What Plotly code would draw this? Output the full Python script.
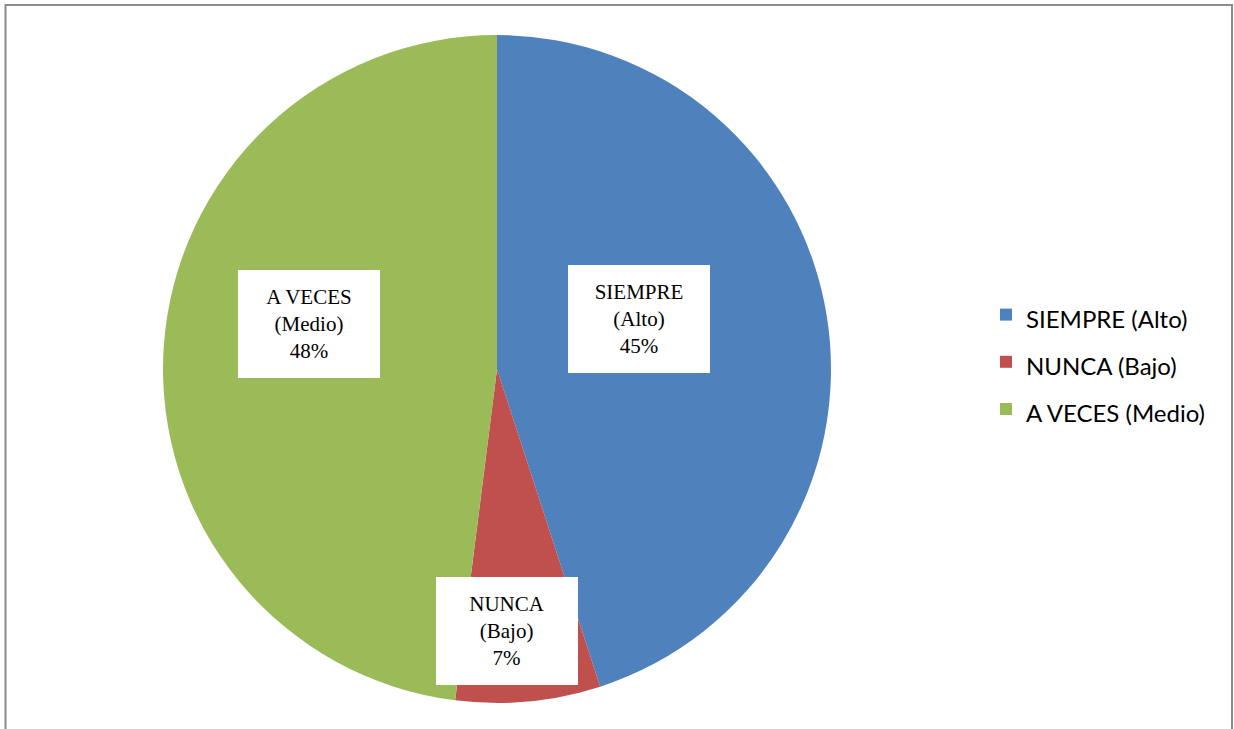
import plotly.graph_objects as go

# Survey answers and their shares (percent)
categories = ["SIEMPRE (Alto)", "NUNCA (Bajo)", "A VECES (Medio)"]
label_lines = ["SIEMPRE<br>(Alto)", "NUNCA<br>(Bajo)", "A VECES<br>(Medio)"]
values = [45, 7, 48]

colors = ["#4F81BD", "#C0504D", "#9BBB59"]

W, H = 1234, 729
# Centres of the data-label boxes, in pixels of the canvas
label_centres = [(639, 319), (506.5, 631), (308.5, 324.5)]
box_w, box_h = 142, 108

fig = go.Figure(
    go.Pie(
        labels=[f'<span style="font-size:24px">{c}</span>' for c in categories],
        values=values,
        sort=False,
        direction="clockwise",
        rotation=0,
        marker=dict(colors=colors, line=dict(width=0)),
        textinfo="none",
        hoverinfo="label+percent",
        domain=dict(x=[163 / W, 831 / W], y=[1 - 703 / H, 1 - 35 / H]),
    )
)

total = sum(values)
for (cx, cy), txt, v in zip(label_centres, label_lines, values):
    pct = round(100 * v / total)
    fig.add_annotation(
        x=cx / W, y=1 - cy / H, xref="paper", yref="paper",
        text=f"{txt}<br>{pct}%",
        showarrow=False,
        font=dict(family="Liberation Serif", size=21, color="#000000"),
        bgcolor="#FFFFFF",
        width=box_w, height=box_h,
        borderpad=0, borderwidth=0,
        align="center", valign="middle",
        xanchor="center", yanchor="middle",
    )

# Chart-area frame
fig.add_shape(
    type="rect", xref="paper", yref="paper",
    x0=5.5 / W, x1=1232 / W, y0=-0.05, y1=1 - 5 / H,
    line=dict(color="#8C8C8C", width=2),
    fillcolor="rgba(0,0,0,0)",
)

fig.update_layout(
    width=W, height=H,
    margin=dict(l=0, r=0, t=0, b=0),
    paper_bgcolor="#FFFFFF",
    showlegend=True,
    legend=dict(
        x=986 / W, y=1 - 362 / H, xanchor="left", yanchor="middle",
        font=dict(family="Lato", size=34, color="#000000"),
        bgcolor="rgba(0,0,0,0)",
        itemclick=False,
    ),
)

fig.write_html("out.html")
